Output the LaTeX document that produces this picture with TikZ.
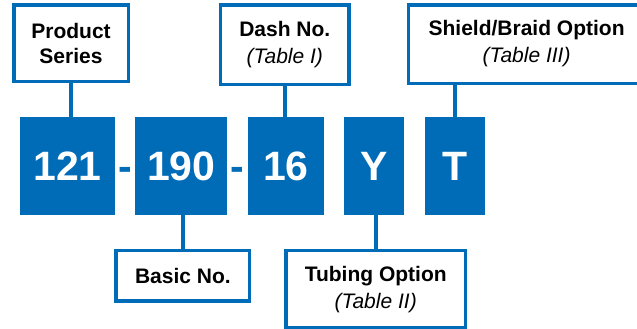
\documentclass[tikz,border=0pt]{standalone}
\usepackage{fontspec}
\setmainfont{Liberation Sans}
\usetikzlibrary{positioning}
\definecolor{partblue}{RGB}{0,107,182}

\begin{document}
\begin{tikzpicture}[x=1pt, y=1pt,
    code/.style={fill=partblue, text=white, inner sep=0pt, minimum height=98pt,
      font=\fontsize{41}{41}\selectfont\bfseries},
    field/.style={draw=partblue, line width=3.5pt, fill=white, inner sep=0pt,
      align=center, font=\fontsize{21}{27}\selectfont\bfseries},
    hyph/.style={text=partblue, inner sep=0pt, anchor=base,
      font=\fontsize{41}{41}\selectfont\bfseries},
    link/.style={draw=partblue, line width=4pt}]
  \clip (0,0) rectangle (637,-329);

  % part number
  \node[code, minimum width=95pt] (n121) at (67.5,-166) {121};
  \node[code, minimum width=92pt, right=20pt of n121] (n190) {190};
  \node[code, minimum width=76pt, right=20pt of n190] (n16) {16};
  \node[code, minimum width=60pt, right=20pt of n16] (nY) {Y};
  \node[code, minimum width=60pt, right=20pt of nY] (nT) {T};
  \path (n121.base east) -- (n190.base west) node[midway, hyph] (dash1) {-};
  \path (n190.base east) -- (n16.base west) node[midway, hyph] (dash2) {-};

  % fields
  \node[field, minimum width=114.5pt, minimum height=76.5pt,
    above=33.75pt of n121, xshift=3.5pt] (series) {Product\\[-2pt]Series};
  \node[field, minimum width=128.5pt, minimum height=79.5pt,
    above=30.75pt of n16, xshift=-1pt] (dashno) {Dash No.\\{\mdseries\itshape (Table I)}};
  \node[field, minimum width=236.5pt, minimum height=78.5pt,
    above=31.75pt of nT, xshift=72pt] (shield) {Shield/Braid Option\\{\mdseries\itshape (Table III)}};
  \node[field, minimum width=133.5pt, minimum height=50.5pt,
    below=33.75pt of n190, xshift=1.5pt] (basic) {Basic No.};
  \node[field, minimum width=179.5pt, minimum height=77.5pt,
    below=33.75pt of nY, xshift=1.5pt] (tubing) {Tubing Option\\{\mdseries\itshape (Table II)}};

  \draw[link] (series.south) -- (series.south |- n121.north);
  \draw[link] (dashno.south) -- (dashno.south |- n16.north);
  \draw[link] (nT.north) -- (nT.north |- shield.south);
  \draw[link] (basic.north) -- (basic.north |- n190.south);
  \draw[link] (tubing.north) -- (tubing.north |- nY.south);
\end{tikzpicture}
\end{document}
